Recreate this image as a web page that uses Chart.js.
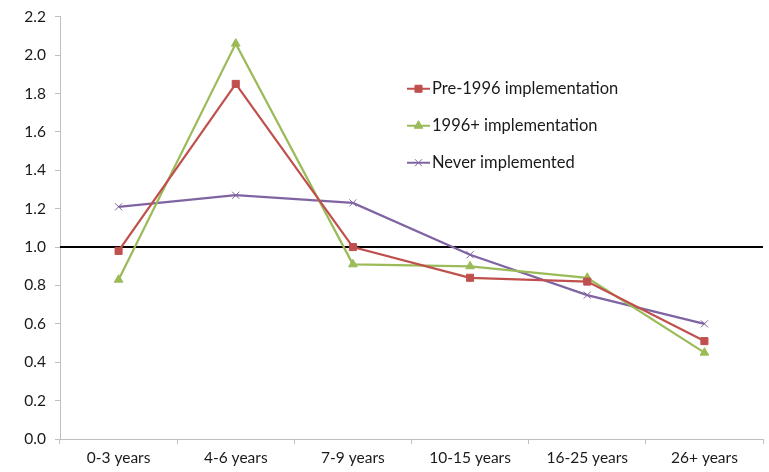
<!DOCTYPE html>
<html>
<head>
<meta charset="utf-8">
<script src="https://cdn.jsdelivr.net/npm/chart.js@4/dist/chart.umd.min.js"></script>
<style>
  html, body { margin: 0; padding: 0; background: #fff; }
  #wrap { width: 769px; height: 472px; position: relative; }
</style>
</head>
<body>
<div id="wrap"><canvas id="c" width="769" height="472"></canvas></div>
<script>
const categories = ['0-3 years', '4-6 years', '7-9 years', '10-15 years', '16-25 years', '26+ years'];
const pre1996 = [0.98, 1.85, 1.00, 0.84, 0.82, 0.51];
const post1996 = [0.83, 2.06, 0.91, 0.90, 0.84, 0.45];
const never = [1.21, 1.27, 1.23, 0.96, 0.75, 0.60];
const seriesNames = ['Pre-1996 implementation', '1996+ implementation', 'Never implemented'];
const referenceLevel = 1.0;

const FONT = 'Lato, "Open Sans", "Liberation Sans", sans-serif';
const AXIS_GREY = '#bfbfbf';
const TEXT = '#1a1a1a';

// Black reference line at 1.0 spanning the full plot width
const refLine = {
  id: 'refLine',
  beforeDatasetsDraw(chart) {
    const { ctx, chartArea, scales } = chart;
    const y = scales.y.getPixelForValue(referenceLevel);
    ctx.save();
    ctx.strokeStyle = '#000';
    ctx.lineWidth = 2;
    ctx.beginPath();
    ctx.moveTo(chartArea.left, y);
    ctx.lineTo(chartArea.right, y);
    ctx.stroke();
    ctx.restore();
  }
};

// Legend drawn inside the plot, one entry per line
const insideLegend = {
  id: 'insideLegend',
  afterDraw(chart) {
    const { ctx, chartArea } = chart;
    const x0 = chartArea.left + 347;
    const ys = [chartArea.top + 72, chartArea.top + 109, chartArea.top + 146];
    ctx.save();
    chart.data.datasets.forEach((ds, i) => {
      const y = ys[i];
      ctx.strokeStyle = ds.borderColor;
      ctx.lineWidth = 2;
      ctx.beginPath();
      ctx.moveTo(x0, y);
      ctx.lineTo(x0 + 23, y);
      ctx.stroke();
      ctx.fillStyle = ds.backgroundColor;
      ctx.strokeStyle = ds.borderColor;
      ctx.lineWidth = 1;
      Chart.helpers.drawPoint(ctx, {
        pointStyle: ds.pointStyle,
        radius: ds.pointRadius,
        borderWidth: 1
      }, x0 + 11.5, y);
      ctx.fillStyle = TEXT;
      ctx.font = '16.5px ' + FONT;
      ctx.textBaseline = 'middle';
      ctx.textAlign = 'left';
      ctx.fillText(ds.label, x0 + 25, y);
    });
    ctx.restore();
  }
};

// Fixed top inset for the plot area
const topInset = {
  id: 'topInset',
  beforeLayout(chart) { chart.options.layout.padding.top = 15; }
};

const colors = ['#C0504D', '#9BBB59', '#8064A2'];
const styles = ['rect', 'triangle', 'crossRot'];
const radii = [5, 5, 5];
const seriesData = [pre1996, post1996, never];

new Chart(document.getElementById('c'), {
  type: 'line',
  data: {
    labels: categories,
    datasets: seriesData.map((d, i) => ({
      label: seriesNames[i],
      data: d,
      borderColor: colors[i],
      backgroundColor: colors[i],
      pointBackgroundColor: colors[i],
      pointBorderColor: colors[i],
      pointStyle: styles[i],
      pointRadius: radii[i],
      pointBorderWidth: 1,
      borderWidth: 2.25,
      tension: 0,
      fill: false,
      clip: false
    }))
  },
  options: {
    responsive: false,
    animation: false,
    devicePixelRatio: 1,
    layout: { padding: { top: 0, right: 2, left: 0, bottom: 0 } },
    plugins: {
      legend: { display: false },
      tooltip: { enabled: false }
    },
    scales: {
      x: {
        type: 'category',
        offset: true,
        grid: {
          offset: true,
          drawOnChartArea: false,
          drawTicks: true,
          tickLength: 5,
          color: AXIS_GREY
        },
        border: { color: AXIS_GREY, width: 1 },
        ticks: {
          color: TEXT,
          font: { family: FONT, size: 15.5 },
          padding: 5,
          maxRotation: 0
        },
        afterFit(s) { s.height = 33; }
      },
      y: {
        min: 0,
        max: 2.2,
        grid: {
          drawOnChartArea: false,
          drawTicks: true,
          tickLength: 5,
          color: AXIS_GREY
        },
        border: { color: AXIS_GREY, width: 1 },
        ticks: {
          stepSize: 0.2,
          color: TEXT,
          font: { family: FONT, size: 15.5, lineHeight: 1.0 },
          padding: 9,
          callback: v => Number(v).toFixed(1)
        },
        afterFit(s) { s.width = 60; }
      }
    }
  },
  plugins: [refLine, insideLegend, topInset]
});
</script>
</body>
</html>
